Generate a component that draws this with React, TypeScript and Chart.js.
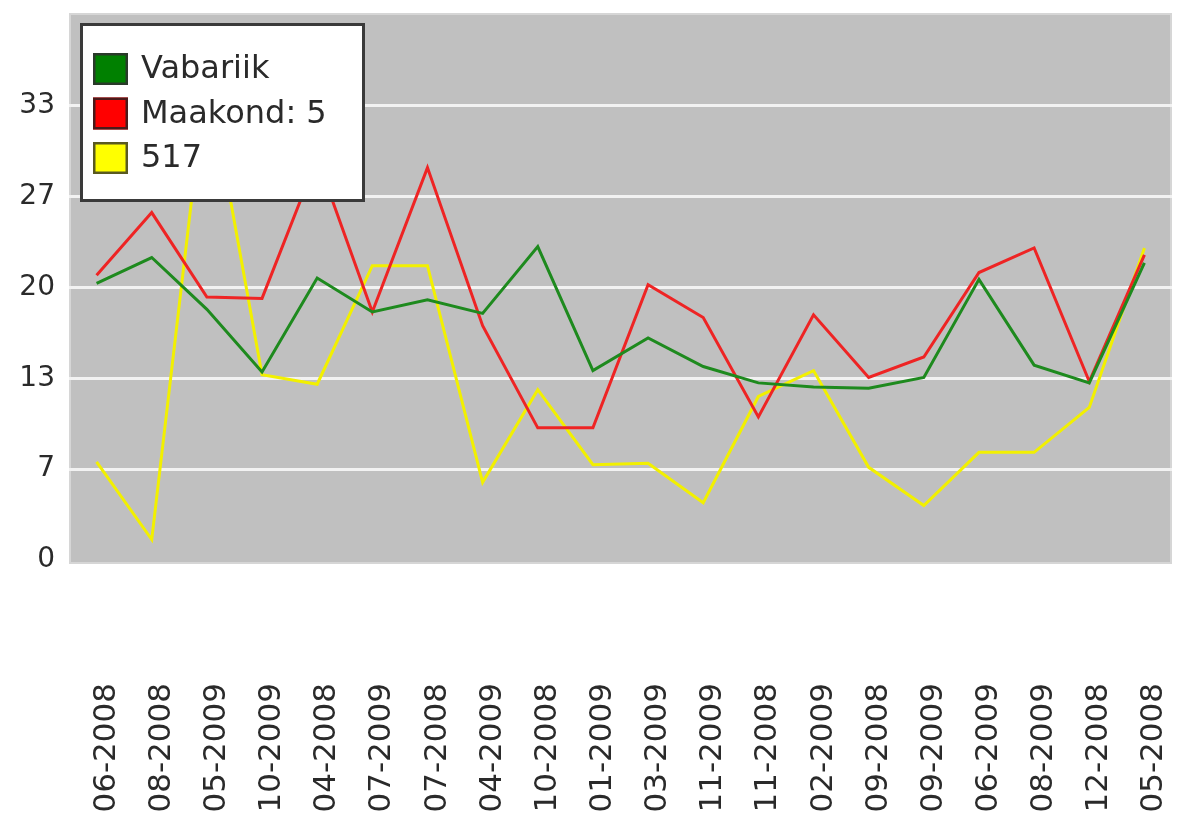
import React, { useEffect, useRef } from 'react';
import { Chart, registerables } from 'chart.js';

Chart.register(...registerables);

const categories = [
  '06-2008', '08-2008', '05-2009', '10-2009', '04-2008', '07-2009', '07-2008',
  '04-2009', '10-2008', '01-2009', '03-2009', '11-2009', '11-2008', '02-2009',
  '09-2008', '09-2009', '06-2009', '08-2009', '12-2008', '05-2008',
];

const vabariik = [20.3, 22.2, 18.4, 13.8, 20.7, 18.2, 19.1, 18.1, 23.0, 13.9, 16.3, 14.2, 13.0, 12.7, 12.6, 13.4, 20.6, 14.3, 13.0, 21.8];
const maakond5 = [20.9, 25.5, 19.3, 19.2, 29.5, 18.2, 28.8, 17.2, 9.7, 9.7, 20.2, 17.8, 10.5, 18.0, 13.4, 14.9, 21.1, 22.9, 13.1, 22.4];
const s517 = [7.2, 1.5, 36.0, 13.6, 12.9, 21.6, 21.6, 5.7, 12.5, 7.0, 7.1, 4.2, 12.0, 13.9, 6.8, 4.0, 7.9, 7.9, 11.2, 22.9];

const seriesNames = ['Vabariik', 'Maakond: 5', '517'];
const lineColors = ['#1e8a1e', '#ee2424', '#f2f000'];
const swatchFills = ['#008000', '#ff0000', '#ffff00'];
const swatchBorders = ['#2a3a2a', '#4a1a1a', '#5a5a20'];

const yMin = 0;
const yMax = 40;
const yTickValues = [0, 40 / 6, 80 / 6, 20, 160 / 6, 200 / 6, 40];
const yTickLabels = ['0', '7', '13', '20', '27', '33', ''];

const backgroundPlugin = {
  id: 'plotBackground',
  beforeDraw(chart: any) {
    const { ctx, chartArea } = chart;
    ctx.save();
    ctx.fillStyle = '#c0c0c0';
    ctx.fillRect(chartArea.left, chartArea.top, chartArea.right - chartArea.left, chartArea.bottom - chartArea.top + 3);
    ctx.strokeStyle = '#d6d6d6';
    ctx.lineWidth = 2;
    ctx.strokeRect(chartArea.left + 1, chartArea.top - 1, chartArea.right - chartArea.left - 2, chartArea.bottom - chartArea.top + 4);
    ctx.restore();
  },
};

const boxLegendPlugin = {
  id: 'boxLegend',
  afterDatasetsDraw(chart: any) {
    const { ctx, chartArea } = chart;
    const x = chartArea.left + 11;
    const y = chartArea.top + 8;
    const w = 285;
    const h = 179;
    ctx.save();
    ctx.fillStyle = '#ffffff';
    ctx.fillRect(x, y, w, h);
    ctx.lineWidth = 3;
    ctx.strokeStyle = '#3a3a3a';
    ctx.strokeRect(x + 1.5, y + 1.5, w - 3, h - 3);
    ctx.font = '32px "DejaVu Sans"';
    ctx.textBaseline = 'middle';
    ctx.textAlign = 'left';
    chart.data.datasets.forEach((ds: any, i: number) => {
      const cy = y + 46 + i * 44.5;
      const sx = x + 13;
      ctx.fillStyle = swatchFills[i];
      ctx.fillRect(sx, cy - 16, 35, 32);
      ctx.lineWidth = 2.5;
      ctx.strokeStyle = swatchBorders[i];
      ctx.strokeRect(sx + 1.25, cy - 14.75, 32.5, 29.5);
      ctx.fillStyle = '#2a2a2a';
      ctx.fillText(ds.label, x + 61, cy + 1);
    });
    ctx.restore();
  },
};

function zeroPadding(scale: any) {
  scale.paddingLeft = 0;
  scale.paddingRight = 0;
  scale.paddingTop = 0;
  scale.paddingBottom = 0;
}

export default function App() {
  const canvasRef = useRef<HTMLCanvasElement | null>(null);

  useEffect(() => {
    const canvas = canvasRef.current;
    if (!canvas) return;
    const seriesValues = [vabariik, maakond5, s517];
    const chart = new Chart(canvas, {
      type: 'line',
      data: {
        labels: categories,
        datasets: seriesValues.map((vals, i) => ({
          label: seriesNames[i],
          data: vals,
          borderColor: lineColors[i],
          backgroundColor: lineColors[i],
          borderWidth: 3,
          pointRadius: 0,
          tension: 0,
          fill: false,
        })),
      },
      options: {
        responsive: false,
        animation: false,
        layout: { padding: { top: 15, right: 8, left: 0, bottom: 0 } },
        plugins: {
          legend: { display: false },
          tooltip: { enabled: false },
        },
        scales: {
          x: {
            type: 'category',
            offset: true,
            border: { display: false },
            grid: { display: false, drawTicks: false },
            ticks: {
              autoSkip: false,
              minRotation: 90,
              maxRotation: 90,
              padding: 123,
              labelOffset: 10,
              color: '#2a2a2a',
              font: { family: '"DejaVu Sans"', size: 31 },
            },
            afterFit(scale: any) {
              scale.height = 267;
              zeroPadding(scale);
            },
          },
          y: {
            min: yMin,
            max: yMax,
            border: { display: false },
            grid: {
              drawTicks: false,
              lineWidth: 3,
              color: (c: any) => {
                const v = c.tick ? c.tick.value : 0;
                return v <= yMin + 0.01 || v >= yMax - 0.01 ? 'rgba(0,0,0,0)' : '#f2f2f2';
              },
            },
            afterBuildTicks(scale: any) {
              scale.ticks = yTickValues.map((v) => ({ value: v }));
            },
            ticks: {
              padding: 14,
              color: '#2a2a2a',
              font: { family: '"DejaVu Sans"', size: 28 },
              callback: (_v: any, idx: number) => yTickLabels[idx],
            },
            afterFit(scale: any) {
              scale.width = 69;
              zeroPadding(scale);
            },
          },
        },
      },
      plugins: [backgroundPlugin, boxLegendPlugin],
    });
    return () => chart.destroy();
  }, []);

  return (
    <div style={{ position: 'absolute', left: 0, top: 0, width: 1180, height: 827, background: '#ffffff' }}>
      <canvas ref={canvasRef} width={1180} height={827} />
    </div>
  );
}
